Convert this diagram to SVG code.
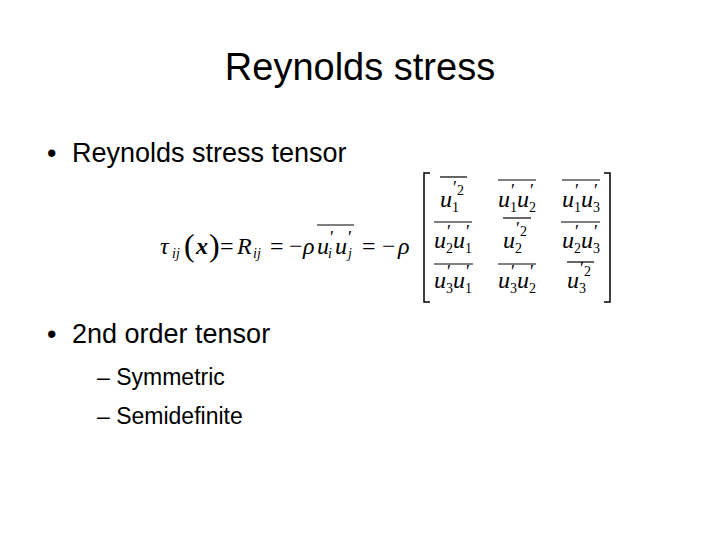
<svg xmlns="http://www.w3.org/2000/svg" width="720" height="540" viewBox="0 0 720 540">
<style>
.t{font-family:"Liberation Sans","Open Sans",sans-serif;fill:#000}
.m{font-family:"Liberation Serif",serif;font-size:24px;fill:#000}
.i{font-style:italic}
.s{font-size:14px}
.p{font-size:18px}
.ol{stroke:#000;stroke-width:1.2}
</style>
<rect width="720" height="540" fill="#fff"/>
<g id="title"><text class="t" x="360" y="80" font-size="38" text-anchor="middle">Reynolds stress</text></g>
<g id="bullets" class="t">
<text x="47" y="162" font-size="27">•</text><text x="72" y="162" font-size="27">Reynolds stress tensor</text>
<text x="47" y="343" font-size="27">•</text><text x="72" y="343" font-size="27">2nd order tensor</text>
<text x="97" y="385" font-size="23">– Symmetric</text>
<text x="97" y="424" font-size="23">– Semidefinite</text>
</g>
<g id="equation">
<text class="m" y="254"><tspan x="160" class="i">τ</tspan><tspan x="172" class="i s" dy="4">ij</tspan><tspan x="184" dy="-2" font-size="32">(</tspan><tspan x="196" dy="-2" class="i" font-weight="bold">x</tspan><tspan x="209" dy="2" font-size="32">)</tspan><tspan x="220" dy="-2">=</tspan><tspan x="237" class="i">R</tspan><tspan x="253" class="i s" dy="4">ij</tspan><tspan x="270" dy="-4">=</tspan><tspan x="289">−</tspan><tspan x="303" class="i">ρ</tspan><tspan x="317" class="i">u</tspan><tspan x="330" class="p" dy="-10">′</tspan><tspan x="328" class="i s" dy="14">i</tspan><tspan x="335" class="i" dy="-4">u</tspan><tspan x="348" class="p" dy="-10">′</tspan><tspan x="348" class="i s" dy="14">j</tspan><tspan x="362" dy="-4">=</tspan><tspan x="382">−</tspan><tspan x="398" class="i">ρ</tspan></text>
<line class="ol" x1="317" y1="225" x2="354" y2="225"/>
<path d="M430 173 H424 V302 H430 M604 173 H610 V302 H604" fill="none" stroke="#000" stroke-width="1.5"/>
<g class="m">
<text y="207"><tspan x="440" class="i">u</tspan><tspan class="p" x="453" dy="-13">′</tspan><tspan class="s" dy="1">2</tspan><tspan x="452" class="s" dy="17">1</tspan></text>
<text y="207"><tspan x="498" class="i">u</tspan><tspan x="511" class="p" dy="-10">′</tspan><tspan x="510" class="s" dy="15">1</tspan><tspan x="517" class="i" dy="-5">u</tspan><tspan x="530" class="p" dy="-10">′</tspan><tspan x="529" class="s" dy="15">2</tspan></text>
<text y="207"><tspan x="562" class="i">u</tspan><tspan x="575" class="p" dy="-10">′</tspan><tspan x="574" class="s" dy="15">1</tspan><tspan x="581" class="i" dy="-5">u</tspan><tspan x="594" class="p" dy="-10">′</tspan><tspan x="593" class="s" dy="15">3</tspan></text>
<text y="248"><tspan x="434" class="i">u</tspan><tspan x="447" class="p" dy="-10">′</tspan><tspan x="446" class="s" dy="15">2</tspan><tspan x="453" class="i" dy="-5">u</tspan><tspan x="466" class="p" dy="-10">′</tspan><tspan x="465" class="s" dy="15">1</tspan></text>
<text y="248"><tspan x="503" class="i">u</tspan><tspan class="p" x="516" dy="-13">′</tspan><tspan class="s" dy="1">2</tspan><tspan x="515" class="s" dy="17">2</tspan></text>
<text y="248"><tspan x="562" class="i">u</tspan><tspan x="575" class="p" dy="-10">′</tspan><tspan x="574" class="s" dy="15">2</tspan><tspan x="581" class="i" dy="-5">u</tspan><tspan x="594" class="p" dy="-10">′</tspan><tspan x="593" class="s" dy="15">3</tspan></text>
<text y="288"><tspan x="434" class="i">u</tspan><tspan x="447" class="p" dy="-10">′</tspan><tspan x="446" class="s" dy="15">3</tspan><tspan x="453" class="i" dy="-5">u</tspan><tspan x="466" class="p" dy="-10">′</tspan><tspan x="465" class="s" dy="15">1</tspan></text>
<text y="288"><tspan x="498" class="i">u</tspan><tspan x="511" class="p" dy="-10">′</tspan><tspan x="510" class="s" dy="15">3</tspan><tspan x="517" class="i" dy="-5">u</tspan><tspan x="530" class="p" dy="-10">′</tspan><tspan x="529" class="s" dy="15">2</tspan></text>
<text y="288"><tspan x="567" class="i">u</tspan><tspan class="p" x="580" dy="-13">′</tspan><tspan class="s" dy="1">2</tspan><tspan x="579" class="s" dy="17">3</tspan></text>
</g>
<g class="ol">
<line x1="440" y1="177" x2="467" y2="177"/><line x1="498" y1="180" x2="536" y2="180"/><line x1="562" y1="180" x2="600" y2="180"/>
<line x1="434" y1="222" x2="472" y2="222"/><line x1="503" y1="218" x2="531" y2="218"/><line x1="561" y1="222" x2="600" y2="222"/>
<line x1="434" y1="264" x2="473" y2="264"/><line x1="498" y1="264" x2="536" y2="264"/><line x1="567" y1="262" x2="594" y2="262"/>
</g>
</g>
</svg>
